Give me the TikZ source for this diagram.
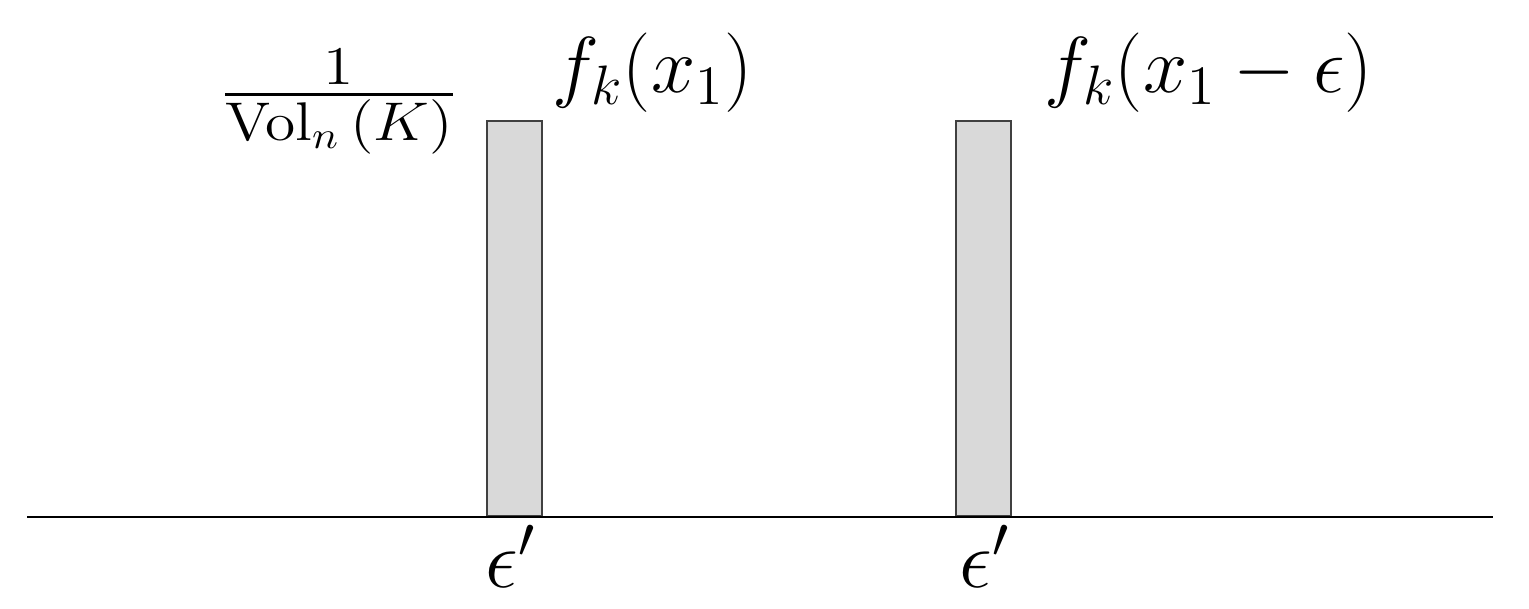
\RequirePackage{fix-cm}
\documentclass[tikz,border=0pt]{standalone}
\usepackage{amsmath}
\usepackage{graphicx}
\begin{document}
\begin{tikzpicture}[x=1cm,y=1cm,
  barbox/.style={draw=black!75, line width=0.5pt, fill=black!15, inner sep=0pt,
                 minimum width=0.55cm, minimum height=3.95cm, anchor=south west},
  lab/.style={inner sep=0pt, font=\fontsize{22.6}{27}\selectfont},
  fraclab/.style={inner sep=0pt, font=\fontsize{15.5}{18}\selectfont},
  eps/.style={inner sep=0pt, font=\fontsize{23.5}{28}\selectfont, anchor=base west},
  axisline/.style={line width=0.85pt, black}]
\useasboundingbox (0,0) rectangle (15.29,-6.09);
% bars
\node[barbox] (b1) at (4.86,-5.17) {};
\node[barbox] (b2) at (9.55,-5.17) {};
% axis
\coordinate (axl) at (0.27,-5.17);
\coordinate (axr) at (14.93,-5.17);
\draw[axisline] (axl) -- (axr);
% labels
\node[fraclab, anchor=base] (frac) at (3.39,-1.085)
  {\scalebox{1.13}[1]{$\genfrac{}{}{0.85pt}{1}{\textstyle 1\rule[-1.6pt]{0pt}{0pt}}{\textstyle\mathrm{Vol}_n\,(K)}$}};
\node[lab, anchor=base west] (f1) at (5.52,-0.93) {$f_k(x_1)$};
\node[lab, anchor=base west] (f2) at (10.44,-0.93) {$f_k(x_1-\epsilon)$};
\node[eps] (e1) at (4.85,-5.87) {$\epsilon'$};
\node[eps] (e2) at (9.59,-5.87) {$\epsilon'$};
\end{tikzpicture}
\end{document}
